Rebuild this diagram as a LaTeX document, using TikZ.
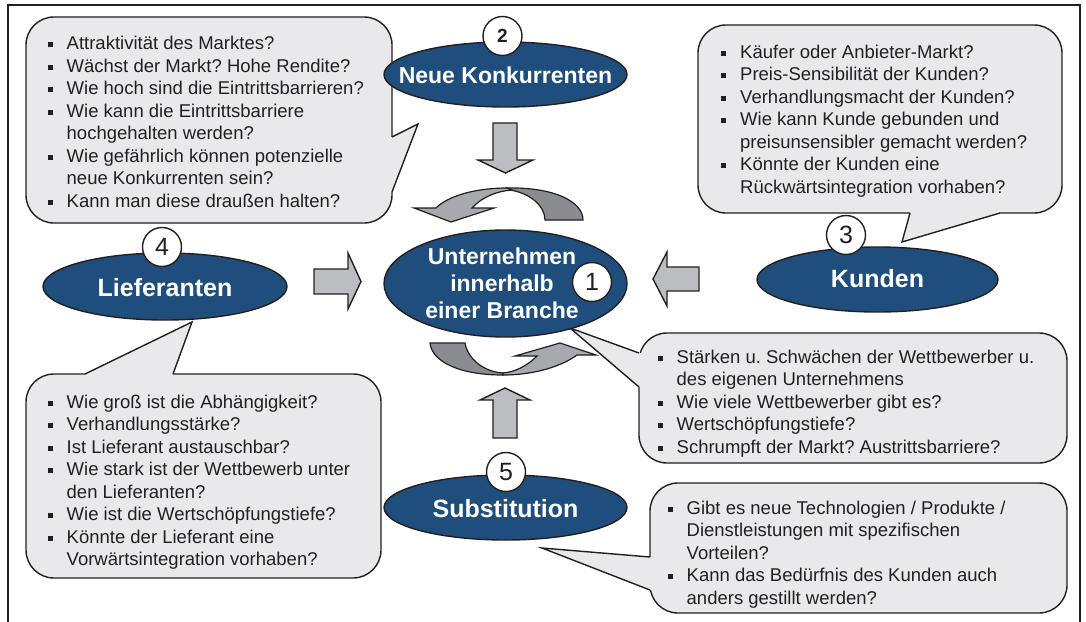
\documentclass[tikz,border=0pt]{standalone}
\usepackage{fontspec}
\setmainfont{Liberation Sans}
\usetikzlibrary{shapes.geometric}
\definecolor{bluefill}{HTML}{1F4E7C}
\definecolor{callgray}{HTML}{E9E9EB}
\definecolor{arrgray}{HTML}{BCBDC0}
\definecolor{lightrot}{HTML}{A8A9AC}
\definecolor{darkrot}{HTML}{8B8C8F}
\definecolor{ink}{HTML}{231F20}
\frenchspacing
\newcommand\bul{\rule{0pt}{18pt}\makebox[19pt][l]{\rule[2.5pt]{5pt}{5pt}}}
\newcommand\ind{\rule{0pt}{18pt}\hspace*{19pt}}
\begin{document}
\begin{tikzpicture}[x=1pt, y=-1pt, line join=miter,
  callbox/.style={fill=callgray, draw=ink, line width=1.4pt, rounded corners=28pt},
  callfill/.style={fill=callgray},
  calledge/.style={draw=ink, line width=1.4pt},
  calltext/.style={anchor=north west, inner sep=0pt, align=left, text=ink, font=\fontsize{18.5}{22.5}\selectfont},
  blob/.style={ellipse, fill=bluefill, draw=ink, line width=1.4pt, inner sep=0pt},
  blobtext/.style={anchor=base, inner sep=0pt, text=white, align=center, font=\bfseries\fontsize{25}{27}\selectfont},
  numc/.style={circle, fill=white, draw=ink, line width=1.4pt, minimum size=39pt, inner sep=0pt, text=ink, font=\fontsize{25}{25}\selectfont},
  blockarr/.style={fill=arrgray, draw=ink, line width=1.4pt},
  rotl/.style={fill=lightrot, draw=ink, line width=1.2pt},
  rotd/.style={fill=darkrot, draw=ink, line width=1.2pt}]
  \useasboundingbox (0,0) rectangle (1086,621);
  \draw[draw=ink, line width=1.4pt] (8,5) rectangle (1080,640);

  \filldraw[rotd] (507,188) .. controls (555,187) and (583,202) .. (583,220) -- (545,220) .. controls (545,206) and (530,193) .. (510,190) -- cycle;
  \filldraw[rotl] (507,188) .. controls (475,188) and (448,196) .. (436,208) -- (414,208) -- (451,222) -- (494,208) -- (472,208) .. controls (482,197) and (497,191) .. (512,190) -- cycle;
  \filldraw[rotd] (430,343) -- (465,343) .. controls (468,360) and (485,372) .. (503,373) -- (503,375) .. controls (460,375) and (432,362) .. (430,343) -- cycle;
  \filldraw[rotl] (503,375) .. controls (535,375) and (562,366) .. (577,355) -- (596,355) -- (560,343) -- (515,356) -- (537,356) .. controls (527,366) and (515,372) .. (503,373) -- cycle;

  \filldraw[blockarr] (493,123) -- (517,123) -- (517,160) -- (533,160) -- (505.5,173) -- (478,160) -- (493,160) -- cycle;
  \filldraw[blockarr] (314,269) -- (348,269) -- (348,253) -- (361,281.5) -- (348,309) -- (348,294) -- (314,294) -- cycle;
  \filldraw[blockarr] (699,267) -- (667,267) -- (667,252) -- (653,279) -- (667,306) -- (667,291) -- (699,291) -- cycle;
  \filldraw[blockarr] (493,438) -- (493,400) -- (480,400) -- (505,388) -- (530,400) -- (517,400) -- (517,438) -- cycle;

  \filldraw[callbox] (26,17) rectangle (392,223);
  \fill[callfill] (388,137) -- (392,137) -- (418,124) -- (392,192) -- (388,192) -- cycle;
  \draw[calledge] (392,137) -- (418,124) -- (392,192);
  \filldraw[callbox] (698,25) rectangle (1062,213);
  \fill[callfill] (910,209) -- (910,213) -- (902,242) -- (1000,213) -- (1000,209) -- cycle;
  \draw[calledge] (910,213) -- (902,242) -- (1000,213);
  \filldraw[callbox] (26,374) rectangle (381,578);
  \fill[callfill] (85,378) -- (85,374) -- (192,322) -- (173,374) -- (173,378) -- cycle;
  \draw[calledge] (85,374) -- (192,322) -- (173,374);
  \filldraw[callbox] (639,333) rectangle (1067,463);
  \fill[callfill] (643,353) -- (639,353) -- (570,328) -- (639,387) -- (643,387) -- cycle;
  \draw[calledge] (639,353) -- (570,328) -- (639,387);
  \filldraw[callbox] (650,483) rectangle (1067,613);
  \fill[callfill] (654,557) -- (650,557) -- (542,548) -- (650,590) -- (654,590) -- cycle;
  \draw[calledge] (650,557) -- (542,548) -- (650,590);

  \node[calltext] (konkq) at (47.5,31.5) {\bul Attraktivität des Marktes?\\
    \bul Wächst der Markt? Hohe Rendite?\\
    \bul Wie hoch sind die Eintrittsbarrieren?\\
    \bul Wie kann die Eintrittsbarriere\\
    \ind hochgehalten werden?\\
    \bul Wie gefährlich können potenzielle\\
    \ind neue Konkurrenten sein?\\
    \bul Kann man diese draußen halten?};
  \node[calltext] (kundq) at (721,40) {\bul Käufer oder Anbieter-Markt?\\
    \bul Preis-Sensibilität der Kunden?\\
    \bul Verhandlungsmacht der Kunden?\\
    \bul Wie kann Kunde gebunden und\\
    \ind preisunsensibler gemacht werden?\\
    \bul Könnte der Kunden eine\\
    \ind Rückwärtsintegration vorhaben?};
  \node[calltext] (liefq) at (47.5,390) {\bul Wie groß ist die Abhängigkeit?\\
    \bul Verhandlungsstärke?\\
    \bul Ist Lieferant austauschbar?\\
    \bul Wie stark ist der Wettbewerb unter\\
    \ind den Lieferanten?\\
    \bul Wie ist die Wertschöpfungstiefe?\\
    \bul Könnte der Lieferant eine\\
    \ind Vorwärtsintegration vorhaben?};
  \node[calltext] (firmq) at (657.5,345) {\bul Stärken u. Schwächen der Wettbewerber u.\\
    \ind des eigenen Unternehmens\\
    \bul Wie viele Wettbewerber gibt es?\\
    \bul Wertschöpfungstiefe?\\
    \bul Schrumpft der Markt? Austrittsbarriere?};
  \node[calltext] (substq) at (667.5,496) {\bul Gibt es neue Technologien / Produkte /\\
    \ind Dienstleistungen mit spezifischen\\
    \ind Vorteilen?\\
    \bul Kann das Bedürfnis des Kunden auch\\
    \ind anders gestillt werden?};

  \node[blob, minimum width=243pt, minimum height=65pt] (konk) at (505.5,74.5) {};
  \node[blobtext, font=\bfseries\fontsize{23}{27}\selectfont] (konktxt) at (505.5,83) {Neue Konkurrenten};
  \node[blob, minimum width=243pt, minimum height=107pt] (firm) at (505.5,283.5) {};
  \node[blobtext, anchor=north, font=\bfseries\fontsize{23}{27}\selectfont] (firmtxt) at (502,244) {\rule{0pt}{20pt}Unternehmen\\innerhalb\\einer Branche};
  \node[blob, minimum width=241pt, minimum height=65pt] (kund) at (877.5,279.5) {};
  \node[blobtext] (kundtxt) at (877.5,287.5) {Kunden};
  \node[blob, minimum width=244pt, minimum height=67pt] (lief) at (165,286.5) {};
  \node[blobtext] (lieftxt) at (165,296.5) {Lieferanten};
  \node[blob, minimum width=243pt, minimum height=65pt] (subst) at (505.5,507.5) {};
  \node[blobtext] (substtxt) at (505.5,517.5) {Substitution};

  \node[numc, font=\bfseries\fontsize{19}{19}\selectfont] (n2) at (502.5,36) {2};
  \node[numc] (n1) at (592,282) {1};
  \node[numc] (n3) at (846,235) {3};
  \node[numc] (n4) at (162,247) {4};
  \node[numc] (n5) at (506,472) {5};
\end{tikzpicture}
\end{document}
